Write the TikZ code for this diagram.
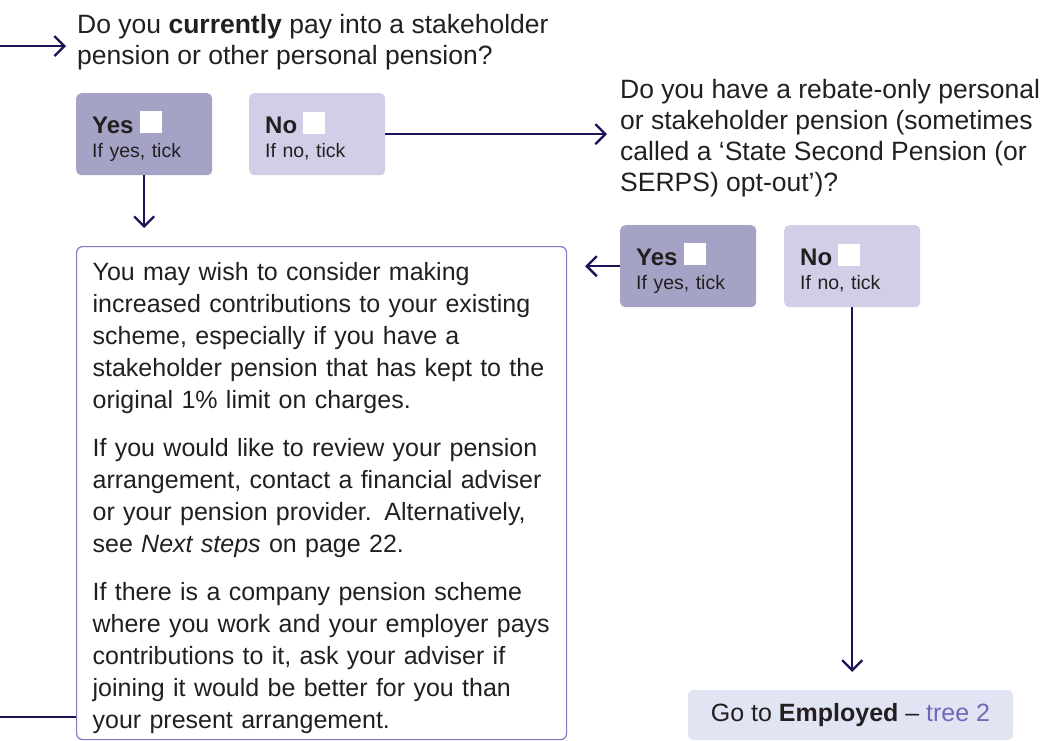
\documentclass[tikz,border=0pt]{standalone}
\usepackage{fontspec}
\setmainfont{Liberation Sans}
\usetikzlibrary{arrows.meta,positioning}
\definecolor{navy}{HTML}{1B1257}
\definecolor{ink}{HTML}{231F20}
\definecolor{yesfill}{HTML}{A4A3C6}
\definecolor{nofill}{HTML}{D1CFE7}
\definecolor{gofill}{HTML}{E1E4F3}
\definecolor{boxline}{HTML}{7D7AC9}
\definecolor{treecol}{HTML}{7467B8}
\newcommand\tickbox{\textcolor{white}{\rule{22pt}{22pt}}}
\newcommand\answer[2]{{\fontsize{24}{24}\selectfont\bfseries\rule{0pt}{26pt}#1\hspace{6pt}\tickbox}\\#2}
\begin{document}
\begin{tikzpicture}[x=1pt,y=-1pt,
  conn/.style={navy,line width=2.3pt,-{Straight Barb[length=10pt,width=20pt]}},
  ans/.style={anchor=north west,rounded corners=5pt,minimum height=82pt,
    text width=104pt,inner xsep=16pt,inner ysep=0pt,align=left,text=ink,
    font=\fontsize{19.5}{24}\selectfont},
  yesbox/.style={ans,fill=yesfill},
  nobox/.style={ans,fill=nofill},
  question/.style={anchor=north west,inner sep=0pt,align=left,text=ink,
    font=\fontsize{26.5}{31}\selectfont},
  infobox/.style={anchor=north west,draw=boxline,line width=1.2pt,rounded corners=6pt,
    text width=458pt,inner xsep=16pt,inner ysep=0pt,minimum height=493pt,
    align=left,text=ink,font=\fontsize{25}{32}\selectfont}]
 \useasboundingbox (0,0) rectangle (1052,740);
 \node[question] (q1) at (77,14) {Do you \textbf{currently} pay into a stakeholder\\pension or other personal pension?};
 \node[yesbox] (yes1) at (76,93) {\answer{Yes}{If yes, tick}};
 \node[nobox] (no1) at (249,93) {\answer{No}{If no, tick}};
 \node[question] (q2) at (620,79) {Do you have a rebate-only personal\\or stakeholder pension (sometimes\\called a `State Second Pension (or\\SERPS) opt-out')?};
 \node[yesbox] (yes2) at (620,225) {\answer{Yes}{If yes, tick}};
 \node[nobox] (no2) at (784,225) {\answer{No}{If no, tick}};
 \node[infobox] (info) at (76,246) {\rule{0pt}{28pt}You may wish to consider making\\
   increased contributions to your existing\\
   scheme, especially if you have a\\
   stakeholder pension that has kept to the\\
   original 1\% limit on charges.\\[16pt]
   If you would like to review your pension\\
   arrangement, contact a financial adviser\\
   or your pension provider. Alternatively,\\
   see \textit{Next steps} on page 22.\\[16pt]
   If there is a company pension scheme\\
   where you work and your employer pays\\
   contributions to it, ask your adviser if\\
   joining it would be better for you than\\
   your present arrangement.};
 \node[fill=gofill,rounded corners=5pt,minimum width=325pt,minimum height=50pt,
   text=ink,font=\fontsize{25}{30}\selectfont] (go) at (850.5,715)
   {Go to \textbf{Employed} -- \textcolor{treecol}{tree 2}};
 \coordinate (start) at (0,46);
 \coordinate (enter) at (0,717);
 \draw[conn,shorten >=11pt] (start) -- (start -| q1.west);
 \draw[conn,shorten >=13pt] (no1.east) -- (no1.east -| q2.west);
 \draw[conn,shorten >=18pt] (yes1.south) -- (yes1.south |- info.north);
 \draw[conn,shorten >=18pt] (yes2.west) -- (yes2.west -| info.east);
 \draw[conn,shorten >=18pt] (no2.south) -- (no2.south |- go.north);
 \draw[navy,line width=2.3pt] (enter) -- (enter -| info.west);
\end{tikzpicture}
\end{document}
